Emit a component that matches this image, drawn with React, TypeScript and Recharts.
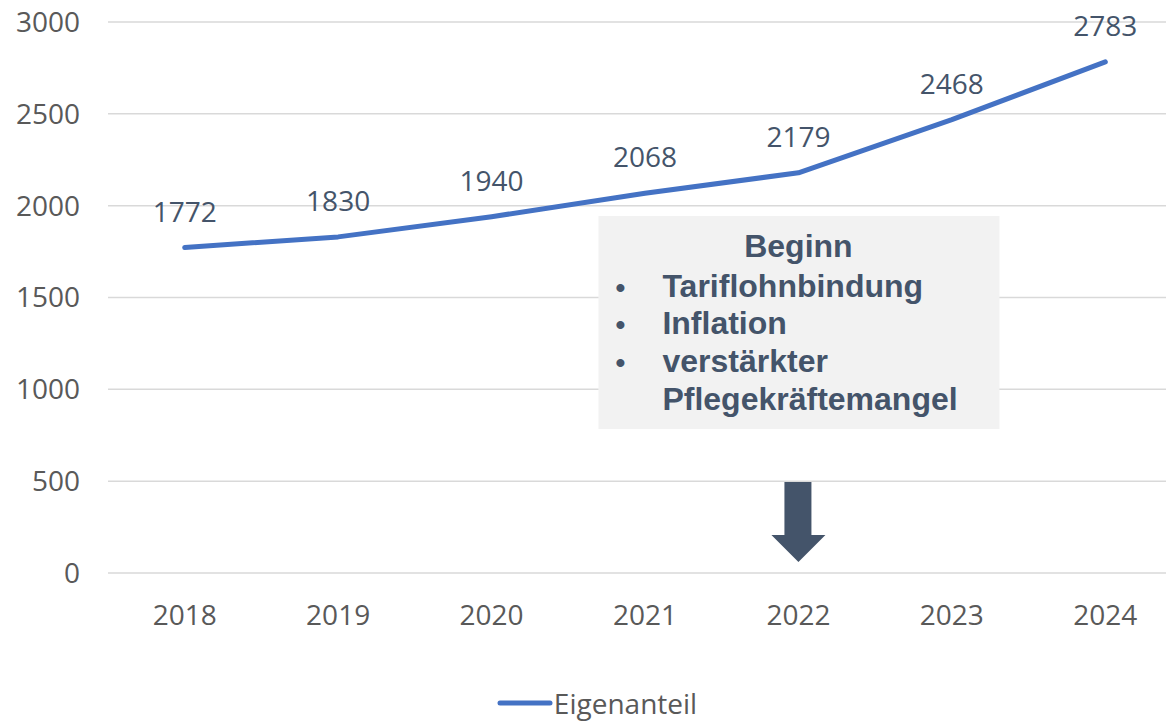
import React from 'react';
import {
  LineChart,
  Line,
  XAxis,
  YAxis,
  CartesianGrid,
  Legend,
  LabelList,
  ReferenceDot,
} from 'recharts';

const years = ['2018', '2019', '2020', '2021', '2022', '2023', '2024'];
const eigenanteil = [1772, 1830, 1940, 2068, 2179, 2468, 2783];
const yTicks = [0, 500, 1000, 1500, 2000, 2500, 3000];
const noteTitle = 'Beginn';
const noteItems = ['Tariflohnbindung', 'Inflation', 'verstärkter'];
const noteTail = 'Pflegekräftemangel';

const data = years.map((year, i) => ({ year, value: eigenanteil[i] }));

const TICK_FONT = '"Open Sans", sans-serif';
const NOTE_FONT = '"Liberation Sans", Arial, sans-serif';
const DARK = '#44546A';

// box + arrow, anchored at 2022 / 0 on the axes
function NoteShape(props: any) {
  const { cx, cy } = props;
  if (cx == null || cy == null) return null;
  const lines = [-276, -239, -201];
  return (
    <g>
      <rect x={cx - 200} y={cy - 357} width={401} height={213} fill="#F2F2F2" />
      <text x={cx} y={cy - 316} textAnchor="middle" fontFamily={NOTE_FONT} fontWeight="bold" fontSize={32} fill={DARK}>
        {noteTitle}
      </text>
      {noteItems.map((t, i) => (
        <g key={t}>
          <text x={cx - 183} y={lines[i] + cy} fontFamily={NOTE_FONT} fontWeight="bold" fontSize={28} fill={DARK}>
            •
          </text>
          <text x={cx - 136} y={lines[i] + cy} fontFamily={NOTE_FONT} fontWeight="bold" fontSize={32} fill={DARK}>
            {t}
          </text>
        </g>
      ))}
      <text x={cx - 136} y={cy - 163} fontFamily={NOTE_FONT} fontWeight="bold" fontSize={32} fill={DARK}>
        {noteTail}
      </text>
      <path
        d={`M${cx - 14},${cy - 91} L${cx + 13},${cy - 91} L${cx + 13},${cy - 38} L${cx + 27},${cy - 38} L${cx},${cy - 11} L${cx - 27},${cy - 38} L${cx - 14},${cy - 38} Z`}
        fill={DARK}
      />
    </g>
  );
}

function LegendContent() {
  return (
    <div style={{ display: 'flex', alignItems: 'center', justifyContent: 'center', paddingLeft: 12, height: 36 }}>
      <svg width={56} height={8} style={{ marginRight: 1 }}>
        <line x1={3} y1={4} x2={53} y2={4} stroke="#4472C4" strokeWidth={5} strokeLinecap="round" />
      </svg>
      <span style={{ fontFamily: TICK_FONT, fontSize: 28, color: '#595959' }}>Eigenanteil</span>
    </div>
  );
}

export default function App() {
  return (
    <div style={{ position: 'fixed', left: 0, top: 0, width: 1166, height: 721, overflow: 'hidden', background: '#fff' }}>
      <LineChart width={1200} height={721} data={data} margin={{ top: 22, right: 18, bottom: 0, left: 0 }}>
        <CartesianGrid horizontal vertical={false} stroke="#D9D9D9" strokeWidth={1.5} />
        <XAxis
          dataKey="year"
          axisLine={false}
          tickLine={false}
          height={112}
          tickMargin={26}
          padding={{ left: 76.7, right: 76.7 }}
          tick={{ fill: '#595959', fontSize: 28, fontFamily: TICK_FONT }}
        />
        <YAxis
          domain={[0, 3000]}
          ticks={yTicks}
          axisLine={false}
          tickLine={false}
          width={108}
          tickMargin={22}
          tick={{ fill: '#595959', fontSize: 28, fontFamily: TICK_FONT }}
        />
        <Legend verticalAlign="bottom" height={36} content={<LegendContent />} />
        <ReferenceDot x="2022" y={0} r={0} shape={<NoteShape />} ifOverflow="visible" />
        <Line
          type="linear"
          dataKey="value"
          name="Eigenanteil"
          stroke="#4472C4"
          strokeWidth={5}
          strokeLinecap="round"
          strokeLinejoin="round"
          dot={false}
          isAnimationActive={false}
        >
          <LabelList
            dataKey="value"
            position="top"
            offset={26}
            fill={DARK}
            fontSize={28}
            fontFamily={TICK_FONT}
          />
        </Line>
      </LineChart>
    </div>
  );
}
